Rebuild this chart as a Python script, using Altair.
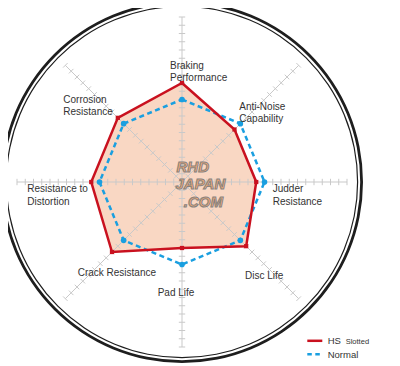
import math
import altair as alt
import pandas as pd

# ---------------- data ----------------
categories = ["Braking Performance", "Anti-Noise Capability", "Judder Resistance",
              "Disc Life", "Pad Life", "Crack Resistance",
              "Resistance to Distortion", "Corrosion Resistance"]
label_text = ["Braking\nPerformance", "Anti-Noise\nCapability", "Judder\nResistance",
              "Disc Life", "Pad Life", "Crack Resistance",
              "Resistance to\nDistortion", "Corrosion\nResistance"]
hs_slotted = [12, 9, 9, 11, 8, 12, 11, 11]
normal = [10, 10, 10, 10, 10, 10, 10, 10]
series_names = ["HS Slotted", "Normal"]
axis_max = 20
tick_values = list(range(1, 21))
watermark = ["RHD", "JAPAN", ".COM"]

# ---------------- layout (pixels) ----------------
W, H = 384, 358
CX, CY = 174.0, 174.0
U = 8.25  # pixels per unit
label_dx = [-12, 57.3, 90.7, 63, -24.3, -104.3, -154.7, -118.7]
label_dy = [-113, -72, 10.3, 97, 114.3, 94, 10.3, -79.3]
wm_dx = [-5.5, -6.5, 41]
wm_dy = [-10.3, 7, 24.7]
wm_align = ["left", "left", "right"]

RED = "#c9111f"
BLUE = "#1a9fe0"
FILL = "#f9d7c3"
GRID = "#c9c9c9"
TEXT = "#333333"
FONT = "Liberation Sans"

xs = alt.Scale(domain=[-CX / U, (W - CX) / U], range=[0, W], nice=False, zero=False)
ys = alt.Scale(domain=[-(H - CY) / U, CY / U], range=[H, 0], nice=False, zero=False)


def X(f):
    return alt.X(f, type="quantitative", scale=xs, axis=None)


def Y(f):
    return alt.Y(f, type="quantitative", scale=ys, axis=None)


# series table
rows = []
for s, vals in zip(series_names, [hs_slotted, normal]):
    for i, (c, v) in enumerate(zip(categories, vals)):
        rows.append({"series": s, "category": c, "idx": i, "value": v})
df = pd.DataFrame(rows)

polar = alt.Chart(df).transform_calculate(
    ang="datum.idx * PI / 4"
).transform_calculate(
    px="datum.value * sin(datum.ang)", py="datum.value * cos(datum.ang)"
)

hs = polar.transform_filter(alt.datum.series == "HS Slotted")
nm = polar.transform_filter(alt.datum.series == "Normal")

# ring (annuli)
center_df = pd.DataFrame({"cx": [0.0], "cy": [0.0]})
ring_outer = alt.Chart(center_df).mark_arc(
    theta=0, theta2=2 * math.pi, radius=181.0, radius2=178.2, color="#1e1e1e"
).encode(x=X("cx"), y=Y("cy"))
ring_inner = alt.Chart(center_df).mark_arc(
    theta=0, theta2=2 * math.pi, radius=176.2, radius2=175.0, color="#1e1e1e"
).encode(x=X("cx"), y=Y("cy"))

# fill polygon
fill = hs.mark_line(interpolate="linear-closed", fill=FILL, strokeWidth=0).encode(
    x=X("px"), y=Y("py"), order=alt.Order("idx:Q")
)

# axes
axes_df = pd.DataFrame({"idx": list(range(len(categories))), "r": [axis_max] * len(categories)})
axes = alt.Chart(axes_df).transform_calculate(
    ang="datum.idx * PI / 4"
).transform_calculate(
    x0="0", y0="0", x1="datum.r * sin(datum.ang)", y1="datum.r * cos(datum.ang)"
).mark_rule(color=GRID, strokeWidth=1).encode(
    x=X("x0"), y=Y("y0"), x2="x1:Q", y2="y1:Q"
)

trows = []
for i in range(len(categories)):
    for k in tick_values:
        trows.append({"idx": i, "k": k})
ticks_df = pd.DataFrame(trows)
h = 3.2 / U
ticks = alt.Chart(ticks_df).transform_calculate(
    ang="datum.idx * PI / 4"
).transform_calculate(
    cx="datum.k * sin(datum.ang)", cy="datum.k * cos(datum.ang)"
).transform_calculate(
    xa=f"datum.cx + {h} * cos(datum.ang)", ya=f"datum.cy - {h} * sin(datum.ang)",
    xb=f"datum.cx - {h} * cos(datum.ang)", yb=f"datum.cy + {h} * sin(datum.ang)"
).mark_rule(color=GRID, strokeWidth=1).encode(
    x=X("xa"), y=Y("ya"), x2="xb:Q", y2="yb:Q"
)

# watermark
wm_df = pd.DataFrame({"t": watermark, "x": [d / U for d in wm_dx],
                      "y": [-d / U for d in wm_dy], "al": wm_align})
wm_left = alt.Chart(wm_df).transform_filter(alt.datum.al == "left").mark_text(
    font=FONT, fontSize=15, fontWeight="bold", fontStyle="italic",
    align="left", baseline="alphabetic", fill="#f4a46a", stroke="#7a7a7a",
    strokeWidth=1, opacity=0.9
).encode(x=X("x"), y=Y("y"), text="t:N")
wm_right = alt.Chart(wm_df).transform_filter(alt.datum.al == "right").mark_text(
    font=FONT, fontSize=15, fontWeight="bold", fontStyle="italic",
    align="right", baseline="alphabetic", fill="#f4a46a", stroke="#7a7a7a",
    strokeWidth=1, opacity=0.9
).encode(x=X("x"), y=Y("y"), text="t:N")

# series lines and points
nm_line = nm.mark_line(interpolate="linear-closed", color=BLUE, strokeWidth=2.5,
                       strokeDash=[5, 3.5]).encode(
    x=X("px"), y=Y("py"), order=alt.Order("idx:Q"))
nm_pts = nm.mark_point(filled=True, shape="circle", size=32, color=BLUE, opacity=1).encode(
    x=X("px"), y=Y("py"))
hs_line = hs.mark_line(interpolate="linear-closed", color=RED, strokeWidth=2.5).encode(
    x=X("px"), y=Y("py"), order=alt.Order("idx:Q"))
hs_pts = hs.mark_point(filled=True, shape="square", size=18, color=RED, opacity=1).encode(
    x=X("px"), y=Y("py"))

# category labels
lab_df = pd.DataFrame({"t": label_text, "x": [d / U for d in label_dx],
                       "y": [-d / U for d in label_dy]})
labels = alt.Chart(lab_df).mark_text(
    font=FONT, fontSize=10, color=TEXT, align="left", baseline="alphabetic",
    lineBreak="\n", lineHeight=12.3
).encode(x=X("x"), y=Y("y"), text="t:N")

# legend
leg_red = alt.Chart(center_df).mark_rule(color=RED, strokeWidth=2.5).encode(
    x=alt.value(299.3), x2=alt.value(314.3), y=alt.value(332.8))
leg_blue = alt.Chart(center_df).mark_rule(color=BLUE, strokeWidth=2.5,
                                          strokeDash=[4.5, 3.5]).encode(
    x=alt.value(299.3), x2=alt.value(314.3), y=alt.value(346.3))
leg_hs = alt.Chart(center_df).mark_text(
    font=FONT, fontSize=9.5, color=TEXT, align="left", baseline="alphabetic"
).encode(x=alt.value(319.7), y=alt.value(335.8), text=alt.value("HS"))
leg_slot = alt.Chart(center_df).mark_text(
    font=FONT, fontSize=7.5, color=TEXT, align="left", baseline="alphabetic"
).encode(x=alt.value(337.7), y=alt.value(335.8), text=alt.value("Slotted"))
leg_nm = alt.Chart(center_df).mark_text(
    font=FONT, fontSize=9.5, color=TEXT, align="left", baseline="alphabetic"
).encode(x=alt.value(319.7), y=alt.value(349.5), text=alt.value("Normal"))

chart = alt.layer(
    ring_outer, ring_inner, fill, axes, ticks, wm_left, wm_right,
    nm_line, nm_pts, hs_line, hs_pts, labels,
    leg_red, leg_blue, leg_hs, leg_slot, leg_nm
).properties(
    width=W, height=H, padding=0, autosize=alt.AutoSizeParams(type="none"),
    background="white"
).configure_view(strokeWidth=0)

chart.save("out.html", embed_options={"renderer": "svg", "actions": False})
